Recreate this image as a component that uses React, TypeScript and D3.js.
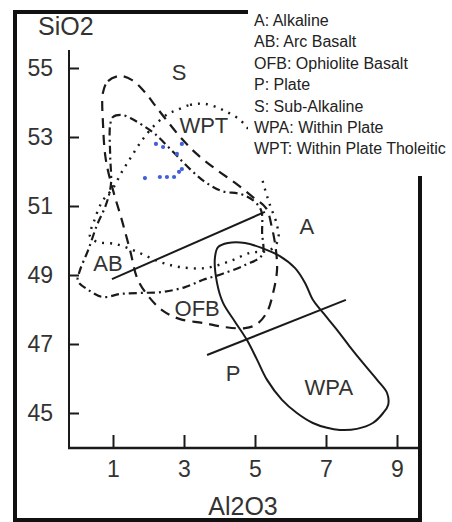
import React, { useEffect, useRef } from "react";
import * as d3 from "d3";

// axis ticks
const xTicks = [1, 3, 5, 7, 9];
const yTicks = [45, 47, 49, 51, 53, 55];

// field outlines, [Al2O3, SiO2]
const ofbField: [number, number][] = [
  [0.72, 54.3], [0.86, 54.62], [1.2, 54.77], [1.54, 54.65], [1.9, 54.3],
  [2.13, 53.99], [2.46, 53.55], [2.97, 52.91], [3.39, 52.48], [3.93, 52.04],
  [4.44, 51.67], [4.94, 51.26], [5.31, 50.94], [5.48, 50.36], [5.59, 49.72],
  [5.62, 49.14], [5.51, 48.48], [5.34, 47.93], [5.06, 47.58], [4.72, 47.46],
  [4.15, 47.49], [3.54, 47.61], [2.89, 47.72], [2.41, 47.96], [2.04, 48.33],
  [1.7, 48.86], [1.48, 49.72], [1.25, 50.59], [1.0, 51.46], [0.8, 52.33],
  [0.72, 53.35],
];

const abField: [number, number][] = [
  [0.92, 53.35], [1.0, 53.58], [1.25, 53.64], [1.54, 53.52], [1.82, 53.35],
  [2.18, 53.09], [2.69, 52.57], [3.17, 52.07], [3.59, 51.7], [4.07, 51.43],
  [4.58, 51.35], [4.94, 51.17], [5.17, 50.88], [5.2, 50.22], [5.2, 49.58],
  [4.72, 49.29], [4.07, 49.03], [3.54, 48.86], [3.03, 48.65], [2.41, 48.51],
  [1.76, 48.48], [1.2, 48.45], [0.72, 48.36], [0.3, 48.57], [0.01, 48.83],
  [0.07, 49.14], [0.3, 49.72], [0.55, 50.45], [0.8, 51.03], [0.94, 51.61],
  [0.92, 52.48],
];

const wptField: [number, number][] = [
  [2.8, 53.78], [3.17, 53.93], [3.59, 53.96], [4.1, 53.78], [4.58, 53.49],
  [4.86, 53.14], [5.06, 52.39], [5.23, 51.67], [5.42, 51.03], [5.62, 50.45],
  [5.65, 50.01], [5.42, 49.72], [4.86, 49.64], [4.24, 49.38], [3.59, 49.2],
  [2.89, 49.23], [2.32, 49.38], [1.68, 49.67], [1.06, 49.9], [0.55, 49.96],
  [0.35, 50.13], [0.46, 50.54], [0.69, 51.12], [1.0, 51.52], [1.25, 51.99],
  [1.51, 52.42], [1.82, 52.91], [2.18, 53.35], [2.55, 53.67],
];

const wpaField: [number, number][] = [
  [3.87, 49.49], [3.96, 49.81], [4.24, 49.93], [4.72, 49.93], [5.2, 49.78],
  [5.7, 49.55], [6.13, 49.2], [6.41, 48.77], [6.63, 48.28], [6.92, 47.9],
  [7.31, 47.41], [7.68, 46.91], [8.04, 46.45], [8.44, 45.96], [8.72, 45.58],
  [8.75, 45.23], [8.61, 45.0], [8.32, 44.71], [7.87, 44.54], [7.39, 44.51],
  [7.03, 44.57], [6.63, 44.71], [6.18, 45.0], [5.76, 45.38], [5.34, 45.96],
  [5.06, 46.54], [4.77, 47.12], [4.44, 47.64], [4.1, 48.19], [3.93, 48.77],
];

// straight boundaries
const alkalineLine: [number, number][] = [[0.97, 48.88], [5.28, 50.83]];
const plateLine: [number, number][] = [[3.65, 46.68], [7.56, 48.28]];

// samples
const sampleAl = [2.21, 2.41, 2.94, 2.8, 2.94, 2.86, 1.9, 2.32, 2.52, 2.72];
const sampleSi = [52.8, 52.71, 52.8, 52.51, 52.07, 51.99, 51.81, 51.84, 51.84, 51.84];

// field labels
const regionNames = ["S", "WPT", "A", "AB", "OFB", "P", "WPA"];
const regionAl = [2.86, 3.56, 6.46, 0.86, 3.37, 4.38, 7.08];
const regionSi = [54.88, 53.35, 50.42, 49.35, 48.04, 46.16, 45.75];

const legendItems = [
  "A: Alkaline",
  "AB: Arc Basalt",
  "OFB: Ophiolite Basalt",
  "P: Plate",
  "S: Sub-Alkaline",
  "WPA: Within Plate",
  "WPT: Within Plate Tholeitic",
];

const FONT = "Arial, 'Liberation Sans', sans-serif";

const App: React.FC = () => {
  const svgRef = useRef<SVGSVGElement>(null);

  useEffect(() => {
    document.body.style.margin = "0";
    const svg = d3.select(svgRef.current);
    svg.selectAll("*").remove();

    const x = d3.scaleLinear().domain([0, 9]).range([77.5, 397]);
    const y = d3.scaleLinear().domain([45, 55]).range([413, 68]);
    const axisX = 69;
    const axisY = 448;

    svg.append("rect").attr("width", 452).attr("height", 522).attr("fill", "#fff");

    // outer frame
    svg
      .append("rect")
      .attr("x", 15)
      .attr("y", 12)
      .attr("width", 405)
      .attr("height", 508)
      .attr("fill", "none")
      .attr("stroke", "#111")
      .attr("stroke-width", 4);

    const line = d3
      .line<[number, number]>()
      .x((d) => x(d[0]))
      .y((d) => y(d[1]));
    const closed = d3
      .line<[number, number]>()
      .x((d) => x(d[0]))
      .y((d) => y(d[1]))
      .curve(d3.curveCatmullRomClosed.alpha(0.5));

    const fields = [
      { pts: ofbField, dash: "10,7", w: 2.2 },
      { pts: abField, dash: "8,4,2,4", w: 2.2 },
      { pts: wptField, dash: "2,6", w: 2.4 },
      { pts: wpaField, dash: null, w: 2 },
    ];
    fields.forEach((f) => {
      svg
        .append("path")
        .attr("d", closed(f.pts))
        .attr("fill", "none")
        .attr("stroke", "#1a1a1a")
        .attr("stroke-width", f.w)
        .attr("stroke-dasharray", f.dash);
    });

    [alkalineLine, plateLine].forEach((l) => {
      svg
        .append("path")
        .attr("d", line(l))
        .attr("fill", "none")
        .attr("stroke", "#1a1a1a")
        .attr("stroke-width", 2);
    });

    svg
      .selectAll(".sample")
      .data(sampleAl)
      .enter()
      .append("circle")
      .attr("cx", (d) => x(d))
      .attr("cy", (_, i) => y(sampleSi[i]))
      .attr("r", 2.1)
      .attr("fill", "#3f60d8");

    svg
      .selectAll(".region")
      .data(regionNames)
      .enter()
      .append("text")
      .attr("x", (_, i) => x(regionAl[i]))
      .attr("y", (_, i) => y(regionSi[i]))
      .attr("dy", "0.36em")
      .attr("text-anchor", "middle")
      .attr("font-family", FONT)
      .attr("font-size", 22)
      .attr("fill", "#333")
      .text((d) => d);

    // y axis
    const gy = svg
      .append("g")
      .attr("transform", `translate(${axisX},0)`)
      .call(d3.axisLeft(y).tickValues(yTicks).tickSize(-10).tickPadding(16));
    gy.select(".domain").remove();
    gy.selectAll("line").attr("stroke", "#1a1a1a").attr("stroke-width", 2);
    gy.selectAll("text")
      .attr("font-family", FONT)
      .attr("font-size", 23)
      .attr("fill", "#333");
    svg
      .append("line")
      .attr("x1", axisX)
      .attr("x2", axisX)
      .attr("y1", 50)
      .attr("y2", axisY)
      .attr("stroke", "#1a1a1a")
      .attr("stroke-width", 2);

    // x axis
    const gx = svg
      .append("g")
      .attr("transform", `translate(0,${axisY})`)
      .call(d3.axisBottom(x).tickValues(xTicks).tickSize(-13).tickPadding(13));
    gx.select(".domain").remove();
    gx.selectAll("line").attr("stroke", "#1a1a1a").attr("stroke-width", 2);
    gx.selectAll("text")
      .attr("font-family", FONT)
      .attr("font-size", 23)
      .attr("fill", "#333");
    svg
      .append("line")
      .attr("x1", axisX - 1)
      .attr("x2", 418)
      .attr("y1", axisY)
      .attr("y2", axisY)
      .attr("stroke", "#1a1a1a")
      .attr("stroke-width", 2.5);

    svg
      .append("text")
      .attr("x", 38)
      .attr("y", 35)
      .attr("font-family", FONT)
      .attr("font-size", 25)
      .attr("fill", "#333")
      .text("SiO2");

    svg
      .append("text")
      .attr("x", 243)
      .attr("y", 515)
      .attr("text-anchor", "middle")
      .attr("font-family", FONT)
      .attr("font-size", 25)
      .attr("fill", "#333")
      .text("Al2O3");

    // legend box over the frame corner
    svg.append("rect").attr("x", 248).attr("y", 0).attr("width", 204).attr("height", 176).attr("fill", "#fff");
    svg
      .selectAll(".legend")
      .data(legendItems)
      .enter()
      .append("text")
      .attr("x", 254)
      .attr("y", (_, i) => 26 + i * 21.4)
      .attr("font-family", FONT)
      .attr("font-size", 16)
      .attr("fill", "#222")
      .text((d) => d);
  }, []);

  return (
    <svg
      ref={svgRef}
      width={452}
      height={522}
      style={{ position: "absolute", left: 0, top: 0, display: "block" }}
    />
  );
};

export default App;
